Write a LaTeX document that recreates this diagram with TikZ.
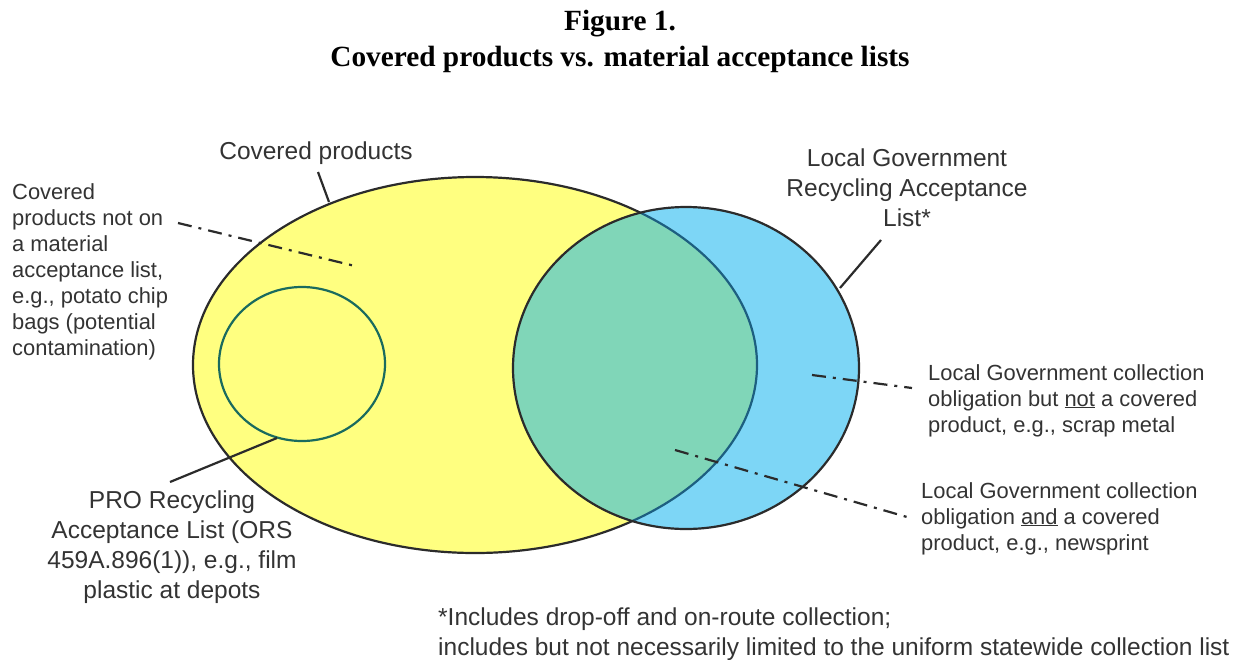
\documentclass[tikz,border=0pt]{standalone}
\usepackage{fontspec}
\setmainfont{Liberation Sans}
\newfontfamily\titlefont{Liberation Serif}
\usepackage{xcolor}
\definecolor{covyellow}{HTML}{FFFF80}
\definecolor{lgblue}{HTML}{7DD6F6}
\definecolor{bothgreen}{HTML}{80D6B8}
\definecolor{edgegray}{HTML}{2B2B2B}
\definecolor{txtgray}{HTML}{333333}
\definecolor{proedge}{HTML}{1A6B5E}
\definecolor{inneredge}{HTML}{1D5F80}

\begin{document}
\begin{tikzpicture}[x=1pt,y=-1pt,
   big/.style={font=\fontsize{24.5}{30}\selectfont,text=txtgray,inner sep=0pt,align=center},
   small/.style={font=\fontsize{21.9}{26}\selectfont,text=txtgray,inner sep=0pt,align=left},
   leader/.style={draw=edgegray,line width=2.2pt},
   dashleader/.style={leader,dash pattern=on 14pt off 7pt on 3pt off 7pt}]
\useasboundingbox (0,0) rectangle (1242,659);

\node[anchor=north,inner sep=0pt,align=center,
  font=\titlefont\bfseries\fontsize{29.3}{36}\selectfont] (title) at (620,10)
  {Figure 1.\\Covered products vs. material acceptance lists};

% the three sets
\coordinate (cov) at (475,365);
\coordinate (lg) at (686,368);
\coordinate (pro) at (302,364);
\fill[covyellow] (cov) ellipse (282pt and 188pt);
\draw[edgegray,line width=2.2pt] (cov) ellipse (282pt and 188pt);
\fill[lgblue] (lg) ellipse (173pt and 161pt);
\begin{scope}
  \clip (cov) ellipse (282pt and 188pt);
  \fill[bothgreen] (lg) ellipse (173pt and 161pt);
\end{scope}
\begin{scope}
  \clip (lg) ellipse (173pt and 161pt);
  \draw[inneredge,line width=2.2pt] (cov) ellipse (282pt and 188pt);
\end{scope}
\draw[edgegray,line width=2.2pt] (lg) ellipse (173pt and 161pt);
\draw[proedge,line width=2.2pt] (pro) ellipse (83pt and 77pt);

% labels
\node[big,anchor=north] (covlabel) at (316,142) {Covered products};
\node[big,anchor=north] (lglabel) at (907,149)
  {Local Government\\Recycling Acceptance\\List*};
\node[big,anchor=north] (prolabel) at (172,491)
  {PRO Recycling\\Acceptance List (ORS\\459A.896(1)), e.g., film\\plastic at depots};
\node[small,anchor=north west] (notcov) at (12,183)
  {Covered\\products not on\\a material\\acceptance list,\\e.g., potato chip\\bags (potential\\contamination)};
\node[small,anchor=north west] (lgnot) at (928,364)
  {Local Government collection\\obligation but \underline{not} a covered\\product, e.g., scrap metal};
\node[small,anchor=north west] (lgand) at (921,482)
  {Local Government collection\\obligation \underline{and} a covered\\product, e.g., newsprint};
\node[big,align=left,anchor=north west] (foot) at (438,608)
  {*Includes drop-off and on-route collection;\\includes but not necessarily limited to the uniform statewide collection list};

% leaders
\coordinate (covfrom) at (318,172);  \coordinate (covto) at (329,202);
\coordinate (lgfrom) at (881,240);   \coordinate (lgto) at (840,288);
\coordinate (profrom) at (170,482);  \coordinate (proto) at (277,438);
\coordinate (ncfrom) at (178,223);   \coordinate (ncto) at (355,266);
\coordinate (notfrom) at (912,388);  \coordinate (notto) at (812,375);
\coordinate (andfrom) at (907,517);  \coordinate (andto) at (675,450);
\draw[leader] (covfrom) -- (covto);
\draw[leader] (lgfrom) -- (lgto);
\draw[leader] (profrom) -- (proto);
\draw[dashleader] (ncfrom) -- (ncto);
\draw[dashleader] (notto) -- (notfrom);
\draw[dashleader] (andto) -- (andfrom);
\end{tikzpicture}
\end{document}
